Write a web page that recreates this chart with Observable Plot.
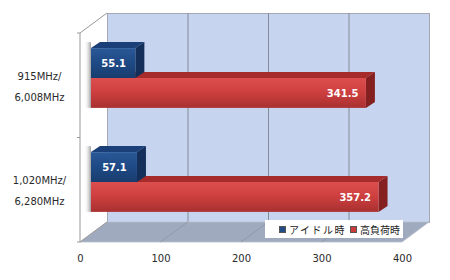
<!DOCTYPE html>
<html><head><meta charset="utf-8">
<script src="https://cdn.jsdelivr.net/npm/d3@7"></script>
<script src="https://cdn.jsdelivr.net/npm/@observablehq/plot@0.6"></script>
<style>
body{margin:0;background:#fff;}
#chart{position:relative;width:450px;height:280px;}
#legend{position:absolute;left:265px;top:220px;width:138px;height:18px;background:#fff;
  font-family:"Noto Sans CJK JP",sans-serif;font-size:10px;color:#222;display:flex;align-items:center;}
#legend .item{display:flex;align-items:center;position:absolute;top:0;height:18px;}
#legend .sw{width:5px;height:5px;margin-right:3px;border:0.5px solid #555;}
</style></head><body><div id="chart"></div>
<script>
const categories = ["915MHz/\n6,008MHz", "1,020MHz/\n6,280MHz"];
const seriesNames = ["アイドル時", "高負荷時"];
const idleValues = [55.1, 57.1];
const loadValues = [341.5, 357.2];
const xTicks = [0, 100, 200, 300, 400];
const seriesColors = ["#1f4b87", "#cc3b3b"];

const rows = [];
categories.forEach((c, i) => {
  rows.push({cat: c, series: seriesNames[1], v: loadValues[i], si: 1});
  rows.push({cat: c, series: seriesNames[0], v: idleValues[i], si: 0});
});

// 3D geometry
const WX = 27, WY = -20;   // back wall depth
const BX = 11, BY = -8;    // bars depth position
const TX = 9, TY = -6;     // bar thickness depth
const palettes = [
  {top: "#1b4079", side: "#132f5a", g: ["#2a5897", "#1f4b87", "#183c6e"]},
  {top: "#a62b2b", side: "#852020", g: ["#dc4d4d", "#cf4040", "#a93030"]}
];

function subBand(bw) {
  return d3.scaleBand([0, 1], [0, bw]).paddingOuter(0.74).paddingInner(0);
}

function floorMark(index, {x}, values, dims) {
  const g = d3.create("svg:g");
  const x0 = x(0), x1 = x(400), yb = dims.height - dims.marginBottom, yt = dims.marginTop;
  g.append("path").attr("d", `M${x0},${yb}L${x1},${yb}L${x1 + WX},${yb + WY}L${x0 + WX},${yb + WY}Z`)
    .attr("fill", "#a0aabf").attr("stroke", "#b8bfcc").attr("stroke-width", 0.8);
  for (const t of xTicks) {
    if (t === 0 || t === 400) continue;
    g.append("line").attr("x1", x(t)).attr("y1", yb).attr("x2", x(t) + WX).attr("y2", yb + WY)
      .attr("stroke", "#8d94a2").attr("stroke-width", 0.8);
  }
  g.append("line").attr("x1", x0).attr("y1", yt).attr("x2", x0).attr("y2", yb).attr("stroke", "#999").attr("stroke-width", 1);
  g.append("line").attr("x1", x0).attr("y1", yt).attr("x2", x0 + WX).attr("y2", yt + WY).attr("stroke", "#999").attr("stroke-width", 1);
  g.append("line").attr("x1", x0).attr("y1", yb).attr("x2", x0 + WX).attr("y2", yb + WY).attr("stroke", "#999").attr("stroke-width", 1);
  for (const yy of [yt, (yt + yb) / 2, yb]) {
    g.append("line").attr("x1", x0 - 3).attr("y1", yy).attr("x2", x0).attr("y2", yy).attr("stroke", "#999");
  }
  return g.node();
}

function barsMark(index, {x, y}, values, dims) {
  const g = d3.create("svg:g");
  const defs = g.append("defs");
  palettes.forEach((p, i) => {
    const lg = defs.append("linearGradient").attr("id", "bg" + i).attr("x1", 0).attr("y1", 0).attr("x2", 0).attr("y2", 1);
    lg.append("stop").attr("offset", "0%").attr("stop-color", p.g[0]);
    lg.append("stop").attr("offset", "45%").attr("stop-color", p.g[1]);
    lg.append("stop").attr("offset", "100%").attr("stop-color", p.g[2]);
  });
  const sh = defs.append("linearGradient").attr("id", "shadow").attr("x1", 0).attr("x2", 1).attr("y1", 0).attr("y2", 0);
  sh.append("stop").attr("offset", "0%").attr("stop-color", "#fff").attr("stop-opacity", 0);
  sh.append("stop").attr("offset", "100%").attr("stop-color", "#777").attr("stop-opacity", 0.7);
  const bw = y.bandwidth();
  const sb = subBand(bw);
  const h = sb.bandwidth();
  for (const c of categories) {
    const yTop = y(c) + sb(0) + BY + TY, yBot = y(c) + sb(1) + h + BY;
    g.append("rect").attr("x", x(0) + BX - 7).attr("y", yTop).attr("width", 7).attr("height", yBot - yTop)
      .attr("fill", "url(#shadow)");
  }
  for (const r of rows) {
    const p = palettes[r.si];
    const x0 = x(0) + BX, x1 = x(r.v) + BX;
    const yt = y(r.cat) + sb(r.si) + BY, yb = yt + h;
    g.append("path").attr("d", `M${x0},${yt}L${x1},${yt}L${x1 + TX},${yt + TY}L${x0 + TX},${yt + TY}Z`).attr("fill", p.top);
    g.append("path").attr("d", `M${x1},${yt}L${x1 + TX},${yt + TY}L${x1 + TX},${yb + TY}L${x1},${yb}Z`).attr("fill", p.side);
    g.append("rect").attr("x", x0).attr("y", yt).attr("width", x1 - x0).attr("height", h).attr("fill", `url(#bg${r.si})`);
  }
  return g.node();
}

const marginTop = 33, marginBottom = 38, height = 280;
const bw = (height - marginTop - marginBottom) / categories.length;
const sb = subBand(bw);
const h = sb.bandwidth();
const centerOffset = si => sb(si) + h / 2 + BY - bw / 2;

const plot = Plot.plot({
  width: 450,
  height,
  marginLeft: 80,
  marginRight: 48,
  marginTop,
  marginBottom,
  style: {fontFamily: "DejaVu Sans, sans-serif", fontSize: "10px", color: "#2a2a2a", background: "#fff"},
  x: {domain: [0, 400]},
  y: {type: "band", domain: categories, padding: 0},
  marks: [
    Plot.frame({fill: "#c6d4ef", stroke: "#a3a8b2", dx: WX, dy: WY}),
    Plot.ruleX(xTicks.slice(1, -1), {stroke: "#878c96", strokeWidth: 1, dx: WX, dy: WY}),
    floorMark,
    barsMark,
    Plot.text(rows.filter(r => r.si === 0), {x: d => d.v / 2, y: "cat", text: d => d.v.toFixed(1),
      dx: BX, dy: centerOffset(0), fill: "white", fontWeight: "bold", fontSize: 10}),
    Plot.text(rows.filter(r => r.si === 1), {x: "v", y: "cat", text: d => d.v.toFixed(1),
      dx: BX - 8, dy: centerOffset(1), textAnchor: "end", fill: "white", fontWeight: "bold", fontSize: 10}),
    Plot.axisX(xTicks, {tickSize: 0, tickPadding: 12, label: null, tickFormat: d => d}),
    Plot.axisY({tickSize: 0, tickPadding: 41, textAnchor: "middle", lineHeight: 2.1, dy: -3, label: null, tickFormat: d => d})
  ]
});
const chart = document.getElementById("chart");
chart.appendChild(plot);
const legend = document.createElement("div");
legend.id = "legend";
seriesNames.forEach((s, i) => {
  const item = document.createElement("div");
  item.className = "item";
  item.style.left = (i === 0 ? 14 : 85) + "px";
  const sw = document.createElement("span");
  sw.className = "sw";
  sw.style.background = seriesColors[i];
  item.appendChild(sw);
  const t = document.createElement("span");
  t.textContent = s;
  t.style.letterSpacing = i === 0 ? "1.5px" : "0px";
  item.appendChild(t);
  legend.appendChild(item);
});
chart.appendChild(legend);
</script></body></html>
